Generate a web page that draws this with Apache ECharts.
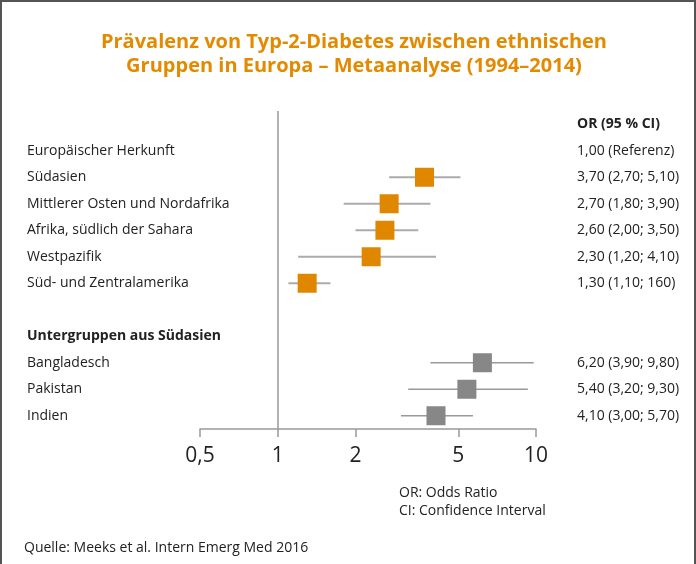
<!DOCTYPE html>
<html>
<head>
<meta charset="utf-8">
<script src="https://cdn.jsdelivr.net/npm/echarts@6/dist/echarts.min.js"></script>
<style>
  html, body { margin: 0; padding: 0; background: #fff; }
  #chart {
    width: 696px;
    height: 564px;
    box-sizing: border-box;
    border-top: 2px solid #555;
    border-left: 2px solid #555;
    border-right: 2px solid #555;
  }
</style>
</head>
<body>
<div id="chart"></div>
<script>
// rows top to bottom (first row holds the right-hand header)
const rowLabels = [' ', 'Europäischer Herkunft', 'Südasien', 'Mittlerer Osten und Nordafrika',
  'Afrika, südlich der Sahara', 'Westpazifik', 'Süd- und Zentralamerika', '  ',
  'Untergruppen aus Südasien', 'Bangladesch', 'Pakistan', 'Indien']
const ciLabels = ['OR (95 % CI)', '1,00 (Referenz)', '3,70 (2,70; 5,10)', '2,70 (1,80; 3,90)',
  '2,60 (2,00; 3,50)', '2,30 (1,20; 4,10)', '1,30 (1,10; 160)', '', '',
  '6,20 (3,90; 9,80)', '5,40 (3,20; 9,30)', '4,10 (3,00; 5,70)']
const estimates = [null, null, 3.7, 2.7, 2.6, 2.3, 1.3, null, null, 6.2, 5.4, 4.1]
const lower = [null, null, 2.7, 1.8, 2.0, 1.2, 1.1, null, null, 3.9, 3.2, 3.0]
const upper = [null, null, 5.1, 3.9, 3.5, 4.1, 1.6, null, null, 9.8, 9.3, 5.7]
const xTicks = [0.5, 1, 2, 5, 10]
const xTickLabels = ['0,5', '1', '2', '5', '10']
const subgroupStart = 9

const chart = echarts.init(document.getElementById('chart'))
const font = '"Open Sans", "Noto Sans", sans-serif'

const ciData = []
const mainData = []
const subData = []
estimates.forEach((v, i) => {
  if (v == null) return
  ciData.push([lower[i], i, upper[i]])
  if (i >= subgroupStart) subData.push([v, i])
  else mainData.push([v, i])
})

const option = {
  animation: false,
  textStyle: { fontFamily: font },
  title: {
    text: 'Prävalenz von Typ-2-Diabetes zwischen ethnischen\nGruppen in Europa – Metaanalyse (1994–2014)',
    left: 347,
    top: 23,
    textAlign: 'center',
    textStyle: {
      fontFamily: font,
      fontSize: 20,
      fontWeight: 'bold',
      color: '#E38A00',
      lineHeight: 24
    }
  },
  grid: { left: 198, right: 158, top: 109, bottom: 135 },
  xAxis: {
    type: 'log',
    logBase: 10,
    min: 0.5,
    max: 10,
    splitLine: { show: false },
    axisLine: { show: true, lineStyle: { color: '#999', width: 1.5 } },
    axisTick: { show: true, length: 8, lineStyle: { color: '#999', width: 1.5 }, customValues: xTicks },
    axisLabel: {
      customValues: xTicks,
      fontSize: 21,
      color: '#222',
      margin: 17,
      formatter: v => {
        const k = xTicks.findIndex(t => Math.abs(t - v) < 1e-6)
        return k >= 0 ? xTickLabels[k] : ''
      }
    }
  },
  yAxis: [
    {
      type: 'category',
      data: rowLabels,
      inverse: true,
      axisLine: { show: false },
      axisTick: { show: false },
      axisLabel: {
        align: 'left',
        margin: 173,
        fontSize: 14,
        color: '#222',
        formatter: (v, i) => i === 8 ? '{b|' + v + '}' : v.trim(),
        rich: { b: { fontWeight: 'bold', fontSize: 14, color: '#222' } }
      }
    },
    {
      type: 'category',
      data: rowLabels,
      inverse: true,
      position: 'right',
      axisLine: { show: false },
      axisTick: { show: false },
      axisLabel: {
        align: 'left',
        margin: 41,
        fontSize: 14,
        color: '#222',
        formatter: (v, i) => i === 0 ? '{b|' + ciLabels[i] + '}' : ciLabels[i],
        rich: { b: { fontWeight: 'bold', fontSize: 14, color: '#222' } }
      }
    }
  ],
  series: [
    {
      type: 'custom',
      data: ciData,
      encode: { x: [0, 2], y: 1 },
      renderItem: (params, api) => {
        const idx = api.value(1)
        const a = api.coord([api.value(0), idx])
        const b = api.coord([api.value(2), idx])
        const sub = idx >= subgroupStart
        return {
          type: 'line',
          shape: { x1: a[0], y1: a[1], x2: b[0], y2: b[1] },
          style: { stroke: sub ? '#999' : '#ababab', lineWidth: sub ? 1.5 : 2 }
        }
      },
      z: 2
    },
    {
      type: 'scatter',
      data: mainData,
      symbol: 'rect',
      symbolSize: 19,
      itemStyle: { color: '#E08700', opacity: 1 },
      markLine: {
        silent: true,
        symbol: 'none',
        label: { show: false },
        lineStyle: { color: '#999', width: 1.5, type: 'solid' },
        data: [{ xAxis: 1 }]
      },
      z: 3
    },
    {
      type: 'scatter',
      data: subData,
      symbol: 'rect',
      symbolSize: 19,
      itemStyle: { color: '#878787', opacity: 1 },
      z: 3
    }
  ],
  graphic: [
    { type: 'text', left: 397, top: 484, style: { text: 'OR: Odds Ratio', font: '14px ' + font, fill: '#222' } },
    { type: 'text', left: 397, top: 502, style: { text: 'CI: Confidence Interval', font: '14px ' + font, fill: '#222' } },
    { type: 'text', left: 22, top: 539, style: { text: 'Quelle: Meeks et al. Intern Emerg Med 2016', font: '14px ' + font, fill: '#222' } }
  ]
}

chart.setOption(option)
</script>
</body>
</html>
